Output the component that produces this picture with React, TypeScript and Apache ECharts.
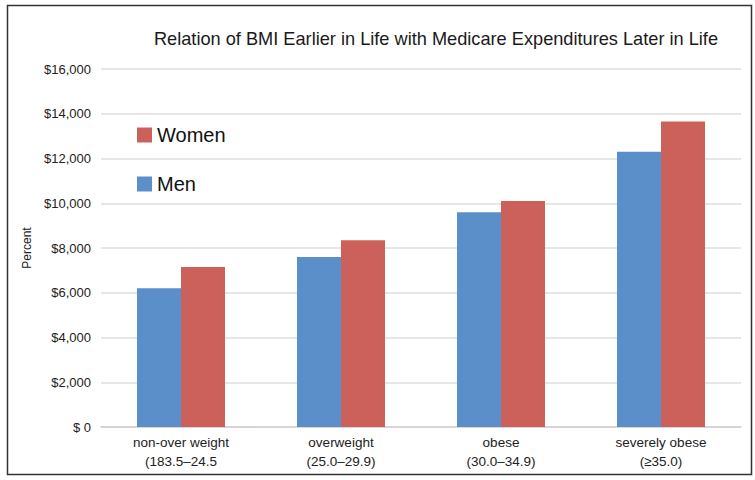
import React, { useEffect, useRef } from "react";
import * as echarts from "echarts";

const categories = [
  "non-over weight\n(183.5–24.5",
  "overweight\n(25.0–29.9)",
  "obese\n(30.0–34.9)",
  "severely obese\n(≥35.0)",
];
const menValues = [6200, 7600, 9600, 12300];
const womenValues = [7150, 8350, 10100, 13650];
const yTicks = { min: 0, max: 16000, interval: 2000 };

export default function App() {
  const ref = useRef<HTMLDivElement>(null);
  useEffect(() => {
    document.body.style.margin = "0";
    const chart = echarts.init(ref.current!, null, { renderer: "svg" });
    const font = "'Liberation Sans', Arial, Helvetica, sans-serif";
    chart.setOption({
      animation: false,
      backgroundColor: "#ffffff",
      textStyle: { fontFamily: font },
      title: {
        text: "Relation of BMI Earlier in Life with Medicare Expenditures Later in Life",
        left: 431,
        textAlign: "center",
        top: 25,
        textStyle: { fontSize: 18.2, fontWeight: "normal", color: "#1a1a1a", fontFamily: font },
      },
      legend: {
        orient: "vertical",
        left: 132,
        top: 120,
        data: ["Women", "Men"],
        icon: "rect",
        itemWidth: 15,
        itemHeight: 15,
        itemGap: 29,
        textStyle: { fontSize: 20, color: "#111", fontFamily: font },
      },
      grid: { left: 101, right: 14, top: 69, bottom: 53, containLabel: false },
      xAxis: {
        type: "category",
        data: categories,
        axisTick: { show: false },
        axisLine: { lineStyle: { color: "#d0d0d0", width: 1.5 } },
        axisLabel: { fontSize: 13.5, lineHeight: 19, color: "#222", margin: 6, interval: 0, fontFamily: font },
      },
      yAxis: {
        type: "value",
        min: yTicks.min,
        max: yTicks.max,
        interval: yTicks.interval,
        name: "Percent",
        nameLocation: "middle",
        nameGap: 66,
        nameTextStyle: { fontSize: 12, color: "#222", fontFamily: font },
        axisLine: { show: false },
        axisTick: { show: false },
        splitLine: { lineStyle: { color: "#dedede", width: 1.5 } },
        axisLabel: {
          fontSize: 13,
          color: "#222",
          margin: 10,
          fontFamily: font,
          formatter: (v: number) => (v === 0 ? "$ 0" : "$" + v.toLocaleString("en-US")),
        },
      },
      series: [
        {
          name: "Men",
          type: "bar",
          data: menValues,
          barGap: "0%",
          barCategoryGap: "45%",
          itemStyle: { color: "#5b8fc9" },
        },
        {
          name: "Women",
          type: "bar",
          data: womenValues,
          barGap: "0%",
          barCategoryGap: "45%",
          itemStyle: { color: "#cc605b" },
        },
      ],
      graphic: [
        {
          type: "rect",
          shape: { x: 7.5, y: 5.5, width: 744, height: 469 },
          style: { fill: "none", stroke: "#333", lineWidth: 1.5 },
          silent: true,
        },
      ],
    });
    return () => chart.dispose();
  }, []);
  return <div ref={ref} style={{ width: 755, height: 480 }} />;
}
